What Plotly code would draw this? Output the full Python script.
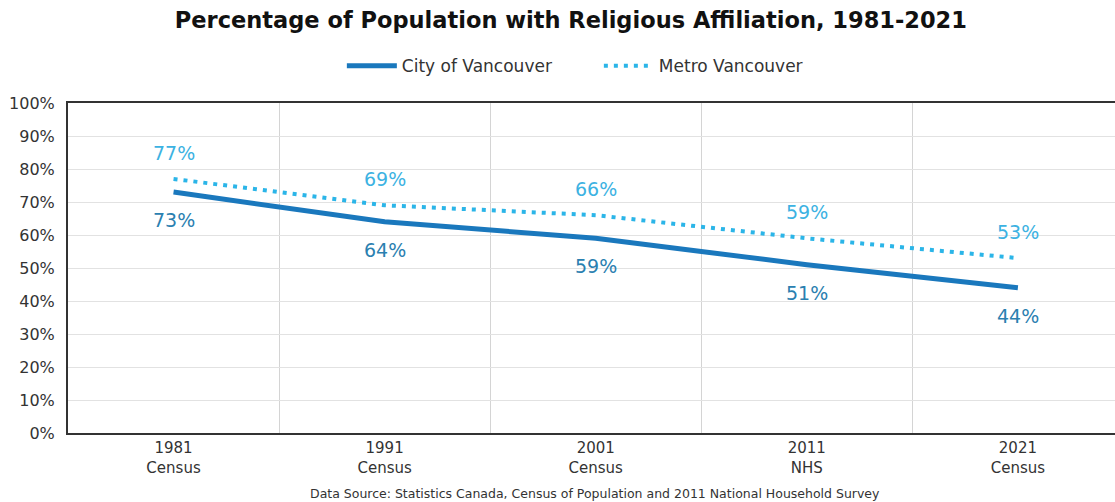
import plotly.graph_objects as go

categories = ["1981<br>Census", "1991<br>Census", "2001<br>Census", "2011<br>NHS", "2021<br>Census"]
city_values = [73, 64, 59, 51, 44]
metro_values = [77, 69, 66, 59, 53]
y_ticks = [0, 10, 20, 30, 40, 50, 60, 70, 80, 90, 100]
y_tick_labels = [f"{v}%" for v in y_ticks]

FONT = "DejaVu Sans"
CITY_COLOR = "#1a78bd"
METRO_COLOR = "#2bb5e8"
CITY_LABEL = "#2a80b0"
METRO_LABEL = "#3cb2e2"

fig = go.Figure()
fig.add_trace(go.Scatter(
    x=categories, y=metro_values, name="Metro Vancouver", mode="lines",
    line=dict(color=METRO_COLOR, width=4, dash="4px,6px"),
))
fig.add_trace(go.Scatter(
    x=categories, y=city_values, name="City of Vancouver", mode="lines",
    line=dict(color=CITY_COLOR, width=5),
))

for c, v in zip(categories, metro_values):
    fig.add_annotation(x=c, y=v, text=f"{v}%", showarrow=False, yshift=26,
                       font=dict(family=FONT, size=19, color=METRO_LABEL))
for c, v in zip(categories, city_values):
    fig.add_annotation(x=c, y=v, text=f"{v}%", showarrow=False, yshift=-28,
                       font=dict(family=FONT, size=19, color=CITY_LABEL))

fig.update_layout(
    width=1115, height=502,
    margin=dict(l=68, r=0, t=103, b=69),
    paper_bgcolor="white", plot_bgcolor="white",
    font=dict(family=FONT, color="#333333"),
    title=dict(text="<b>Percentage of Population with Religious Affiliation, 1981-2021</b>",
               x=0.512, xanchor="center", y=0.96, yanchor="middle",
               font=dict(family=FONT, size=22.5, color="#111111")),
    legend=dict(orientation="h", x=0.3066, xanchor="left", y=0.868, yanchor="middle",
                xref="container", yref="container", traceorder="reversed",
                entrywidth=192, entrywidthmode="pixels",
                font=dict(family=FONT, size=17, color="#333333"), itemwidth=50),
    showlegend=True,
)
fig.update_xaxes(
    type="category", range=[-0.5, 4.46], tickson="boundaries",
    showgrid=True, gridcolor="#d4d4d4", gridwidth=1,
    showline=True, linecolor="#333333", linewidth=2, mirror=True,
    ticks="", tickfont=dict(family=FONT, size=15, color="#333333"),
    fixedrange=True,
)
fig.update_yaxes(
    range=[0, 100], tickvals=y_ticks, ticktext=y_tick_labels,
    showgrid=True, gridcolor="#e2e2e2", gridwidth=1,
    showline=True, linecolor="#333333", linewidth=2,
    zeroline=False, ticks="", ticklabelstandoff=8,
    tickfont=dict(family=FONT, size=16, color="#333333"),
)
fig.add_annotation(
    text="Data Source: Statistics Canada, Census of Population and 2011 National Household Survey",
    xref="paper", yref="paper", x=0.503, y=-0.182, xanchor="center", yanchor="middle",
    showarrow=False, font=dict(family=FONT, size=12.5, color="#333333"),
)
fig.write_html("out.html")
